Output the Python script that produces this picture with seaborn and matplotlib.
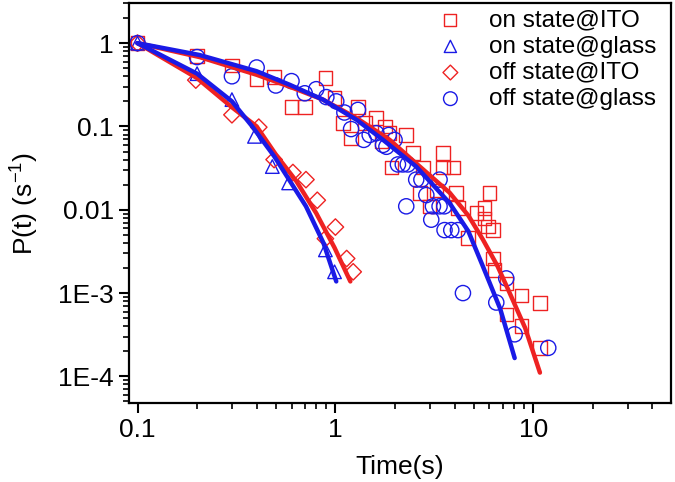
import matplotlib
matplotlib.use('Agg')
import matplotlib.pyplot as plt
import seaborn as sns

on_ito_t = [0.1, 0.2, 0.3, 0.4, 0.49, 0.6, 0.7, 0.89, 0.99, 1.09, 1.2, 1.3, 1.41, 1.6, 1.71,
            1.78, 1.88, 1.92, 2.28, 2.46, 2.67, 2.77, 2.99, 3.24, 3.49, 3.49, 3.96, 4.08, 4.16, 4.68,
            5.15, 5.68, 5.68, 5.9, 6.02, 6.25, 6.25, 6.38, 7.31, 7.31, 8.7, 8.7, 10.8, 10.8]
on_ito_p = [1, 0.70, 0.54, 0.37, 0.39, 0.17, 0.17, 0.38, 0.22, 0.11, 0.072, 0.17, 0.11, 0.126, 0.066,
            0.10, 0.083, 0.032, 0.079, 0.048, 0.016, 0.032, 0.011, 0.017, 0.048, 0.032, 0.032, 0.016, 0.0105, 0.0046,
            0.0091, 0.0105, 0.0079, 0.0063, 0.016, 0.0057, 0.0026, 0.0019, 0.0013, 0.00055, 0.00093, 0.0004, 0.00076, 0.00022]

on_glass_t = [0.1, 0.2, 0.3, 0.39, 0.48, 0.58, 0.89, 0.99]
on_glass_p = [1, 0.43, 0.21, 0.076, 0.033, 0.021, 0.0033, 0.0018]

off_ito_t = [0.1, 0.197, 0.3, 0.41, 0.49, 0.61, 0.71, 0.81, 0.89, 1.0, 1.14, 1.23]
off_ito_p = [1, 0.36, 0.138, 0.098, 0.040, 0.028, 0.023, 0.013, 0.0045, 0.0062, 0.0026, 0.0018]

off_glass_t = [0.1, 0.2, 0.3, 0.4, 0.5, 0.6, 0.7, 0.8, 0.9, 1.01, 1.11, 1.2, 1.3, 1.39, 1.49,
               1.61, 1.74, 1.81, 1.86, 1.99, 2.07, 2.19, 2.32, 2.56, 2.72, 2.88, 2.28, 3.11, 3.36, 3.36,
               3.55, 3.05, 3.56, 3.85, 4.16, 4.41, 6.5, 7.3, 8.05, 11.9]
off_glass_p = [1, 0.68, 0.40, 0.51, 0.31, 0.35, 0.25, 0.28, 0.225, 0.20, 0.147, 0.093, 0.158, 0.069, 0.079,
               0.083, 0.06, 0.057, 0.079, 0.069, 0.035, 0.035, 0.035, 0.023, 0.023, 0.015, 0.011, 0.011, 0.023, 0.011,
               0.011, 0.0076, 0.0057, 0.0057, 0.0057, 0.001, 0.00077, 0.0015, 0.00032, 0.00022]

# fitted curves (traced)
fit_fast_glass_t = [0.1, 0.2, 0.3, 0.38, 0.49, 0.59, 0.71, 0.87, 1.01]
fit_fast_glass_p = [1, 0.43, 0.20, 0.10, 0.044, 0.022, 0.011, 0.004, 0.00138]
fit_fast_ito_t = [0.1, 0.2, 0.3, 0.4, 0.5, 0.635, 0.8, 0.99, 1.19]
fit_fast_ito_p = [1, 0.38, 0.17, 0.1, 0.046, 0.022, 0.0091, 0.0035, 0.00138]
fit_slow_glass_t = [0.1, 0.206, 0.4, 0.588, 0.865, 1.28, 1.74, 2.56, 3.78, 4.7, 5.56, 6.8, 8.05]
fit_slow_glass_p = [1, 0.72, 0.46, 0.316, 0.21, 0.12, 0.069, 0.033, 0.012, 0.0055, 0.0021, 0.00065, 0.000166]
fit_slow_ito_t = [0.1, 0.206, 0.4, 0.588, 0.865, 1.28, 1.88, 2.56, 3.78, 4.7, 5.56, 6.6, 7.6, 9.1, 10.8]
fit_slow_ito_p = [1, 0.68, 0.417, 0.30, 0.21, 0.126, 0.069, 0.036, 0.016, 0.0085, 0.0044, 0.0021, 0.001, 0.00038, 0.000111]

y_ticks = [1, 0.1, 0.01, 1e-3, 1e-4]
y_ticklabels = ['1', '0.1', '0.01', '1E-3', '1E-4']
x_ticks = [0.1, 1, 10]
x_ticklabels = ['0.1', '1', '10']

RED = '#ee2222'
BLUE = '#1a1ae6'

sns.set_style('ticks')
plt.rcParams['font.family'] = ['Liberation Sans', 'DejaVu Sans']
plt.rcParams['mathtext.fontset'] = 'custom'
plt.rcParams['mathtext.rm'] = 'Liberation Sans'
plt.rcParams['text.color'] = 'black'
plt.rcParams['axes.labelcolor'] = 'black'
plt.rcParams['xtick.color'] = 'black'
plt.rcParams['ytick.color'] = 'black'

fig = plt.figure(figsize=(6.75, 4.82), dpi=100)
ax = fig.add_axes([0.191, 0.164, 0.803, 0.829])

sns.lineplot(x=fit_slow_ito_t, y=fit_slow_ito_p, ax=ax, color=RED, lw=3.2, sort=False)
sns.lineplot(x=fit_fast_ito_t, y=fit_fast_ito_p, ax=ax, color=RED, lw=3.2, sort=False)
sns.lineplot(x=fit_slow_glass_t, y=fit_slow_glass_p, ax=ax, color=BLUE, lw=3.2, sort=False)
sns.lineplot(x=fit_fast_glass_t, y=fit_fast_glass_p, ax=ax, color=BLUE, lw=3.2, sort=False)

mk = dict(facecolor='none', linewidth=1.0, s=95)
sns.scatterplot(x=on_ito_t, y=on_ito_p, ax=ax, marker='s', edgecolor=RED, label='on state@ITO', **mk)
sns.scatterplot(x=on_glass_t, y=on_glass_p, ax=ax, marker='^', edgecolor=BLUE, label='on state@glass', **mk)
sns.scatterplot(x=off_ito_t, y=off_ito_p, ax=ax, marker='D', edgecolor=RED, label='off state@ITO',
                facecolor='none', linewidth=1.0, s=70)
sns.scatterplot(x=off_glass_t, y=off_glass_p, ax=ax, marker='o', edgecolor=BLUE, label='off state@glass',
                facecolor='none', linewidth=1.0, s=120)

ax.set_xscale('log')
ax.set_yscale('log')
ax.set_xlim(0.0905, 49.6)
ax.set_ylim(4.8e-5, 3.0)
ax.set_xticks(x_ticks)
ax.set_xticklabels(x_ticklabels)
ax.set_yticks(y_ticks)
ax.set_yticklabels(y_ticklabels)

for s in ax.spines.values():
    s.set_linewidth(1.6)
    s.set_color('black')
ax.tick_params(which='major', length=7, width=1.5, labelsize=19, direction='out', pad=4, colors='black')
ax.tick_params(which='minor', length=4, width=1.2, direction='out', colors='black')

ax.set_xlabel('Time(s)', fontsize=19, labelpad=9, color='black')
ax.set_ylabel('P(t) (s$^{-1}$)', fontsize=19, labelpad=13, color='black')

leg = ax.legend(loc='upper right', bbox_to_anchor=(1.005, 1.027), frameon=False, fontsize=17.5,
                handletextpad=0.6, labelspacing=0.17, borderaxespad=0.3, markerscale=0.9)
for txt in leg.get_texts():
    txt.set_color('black')

fig.savefig('out.png', dpi=100)
